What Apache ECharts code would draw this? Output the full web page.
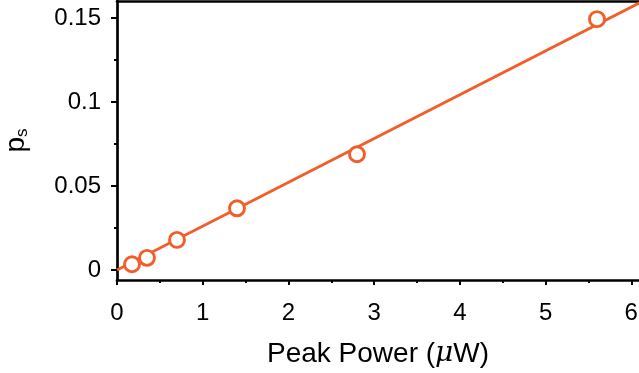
<!DOCTYPE html>
<html>
<head>
<meta charset="utf-8">
<script src="https://cdn.jsdelivr.net/npm/echarts@6/dist/echarts.min.js"></script>
<style>
html,body{margin:0;padding:0;background:#fff;}
#chart{width:639px;height:373px;}
</style>
</head>
<body>
<div id="chart"></div>
<script>
// Data
var peakPower = [0.175, 0.35, 0.7, 1.4, 2.8, 5.6];   // µW
var ps = [0.0034, 0.0072, 0.0179, 0.0367, 0.0689, 0.1494];
// Linear fit line endpoints
var fitX = [0, 6.2];
var fitY = [0, 0.1618];
// Tick values
var xMajorTicks = [0, 1, 2, 3, 4, 5, 6];
var xMinorTicks = [0.5, 1.5, 2.5, 3.5, 4.5, 5.5];
var yMajorTicks = [0, 0.05, 0.1, 0.15];
var yMinorTicks = [0.025, 0.075, 0.125];

var xRange = [0, 6.09];
var yRange = [-0.006, 0.1602];

var ORANGE = '#F25E2A';
var FONT = 'Liberation Sans, Arial, Helvetica, sans-serif';

var chart = echarts.init(document.getElementById('chart'), null, {renderer: 'canvas'});
var option = {
  animation: false,
  backgroundColor: '#fff',
  grid: {left: 117, right: 0, top: 1, bottom: 93, containLabel: false, outerBoundsMode: 'none'},
  xAxis: [
    {
      type: 'value', min: xRange[0], max: xRange[1], position: 'bottom',
      name: 'Peak Power ({mu|μ}W)', nameLocation: 'middle', nameGap: 60,
      nameTextStyle: {fontSize: 28, color: '#000', fontFamily: FONT,
        rich: {mu: {fontSize: 28, fontStyle: 'italic', color: '#000', fontFamily: 'DejaVu Serif, serif'}}},
      axisLine: {show: true, onZero: false, lineStyle: {color: '#000', width: 2.7}},
      axisTick: {show: true, inside: false, length: 5, customValues: xMajorTicks, lineStyle: {color: '#000', width: 2}},
      axisLabel: {show: true, customValues: xMajorTicks, margin: 21, fontSize: 24, color: '#000', fontFamily: FONT},
      splitLine: {show: false}
    },
    {
      type: 'value', min: xRange[0], max: xRange[1], position: 'bottom',
      axisLine: {show: false, onZero: false},
      axisTick: {show: true, inside: false, length: 3, customValues: xMinorTicks, lineStyle: {color: '#000', width: 2}},
      axisLabel: {show: false},
      splitLine: {show: false}
    },
    {
      type: 'value', min: xRange[0], max: xRange[1], position: 'top',
      axisLine: {show: true, onZero: false, lineStyle: {color: '#000', width: 2.7}},
      axisTick: {show: false}, axisLabel: {show: false}, splitLine: {show: false}
    }
  ],
  yAxis: [
    {
      type: 'value', min: yRange[0], max: yRange[1], position: 'left',
      name: 'p{s|s}', nameLocation: 'middle', nameGap: 86, nameRotate: 90,
      nameTextStyle: {
        fontSize: 28, color: '#000', fontFamily: FONT,
        rich: {s: {fontSize: 17, color: '#000', fontFamily: FONT, padding: [12, 0, 0, 0], verticalAlign: 'bottom'}}
      },
      axisLine: {show: true, onZero: false, lineStyle: {color: '#000', width: 2.7}},
      axisTick: {show: true, inside: false, length: 6, customValues: yMajorTicks, lineStyle: {color: '#000', width: 2}},
      axisLabel: {show: true, customValues: yMajorTicks, margin: 16, fontSize: 24, color: '#000', fontFamily: FONT},
      splitLine: {show: false}
    },
    {
      type: 'value', min: yRange[0], max: yRange[1], position: 'left',
      axisLine: {show: false, onZero: false},
      axisTick: {show: true, inside: false, length: 3, customValues: yMinorTicks, lineStyle: {color: '#000', width: 2}},
      axisLabel: {show: false},
      splitLine: {show: false}
    }
  ],
  series: [
    {
      type: 'line', xAxisIndex: 0, yAxisIndex: 0,
      data: fitX.map(function (x, i) { return [x, fitY[i]]; }),
      showSymbol: false, clip: true, z: 2,
      lineStyle: {color: ORANGE, width: 2.7}
    },
    {
      type: 'scatter', xAxisIndex: 0, yAxisIndex: 0,
      data: peakPower.map(function (x, i) { return [x, ps[i]]; }),
      symbol: 'circle', symbolSize: 15, z: 3,
      itemStyle: {color: '#fff', borderColor: ORANGE, borderWidth: 2.9, opacity: 1}
    }
  ]
};
chart.setOption(option);
</script>
</body>
</html>
